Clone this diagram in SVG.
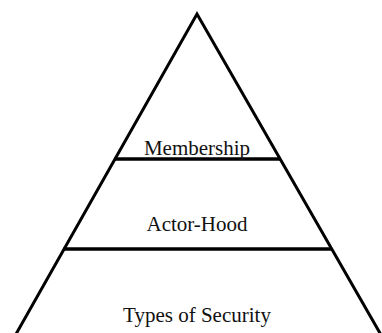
<svg xmlns="http://www.w3.org/2000/svg" width="382" height="333" viewBox="0 0 382 333">
  <style>
    .edge { fill: none; stroke: #000; stroke-width: 3; stroke-linejoin: miter; }
    .tier { stroke: #000; stroke-width: 3.5; }
    .label { font-family: "Liberation Serif", "Times New Roman", serif; font-size: 21px; fill: #111; text-anchor: middle; }
  </style>
  <rect width="382" height="333" fill="#fff"/>
  <!-- pyramid outline, legs run past the bottom edge -->
  <g id="connectors">
    <path class="edge" d="M13.8,338 L197,14 L382.8,338"/>
    <line class="tier" x1="114.5" y1="159" x2="280.5" y2="159"/>
    <line class="tier" x1="63.5" y1="249" x2="332" y2="249"/>
  </g>
  <g id="membership">
    <text class="label" x="197" y="155">Membership</text>
  </g>
  <g id="actor-hood">
    <text class="label" x="197" y="231">Actor-Hood</text>
  </g>
  <g id="types-of-security">
    <text class="label" x="197" y="322">Types of Security</text>
  </g>
</svg>
